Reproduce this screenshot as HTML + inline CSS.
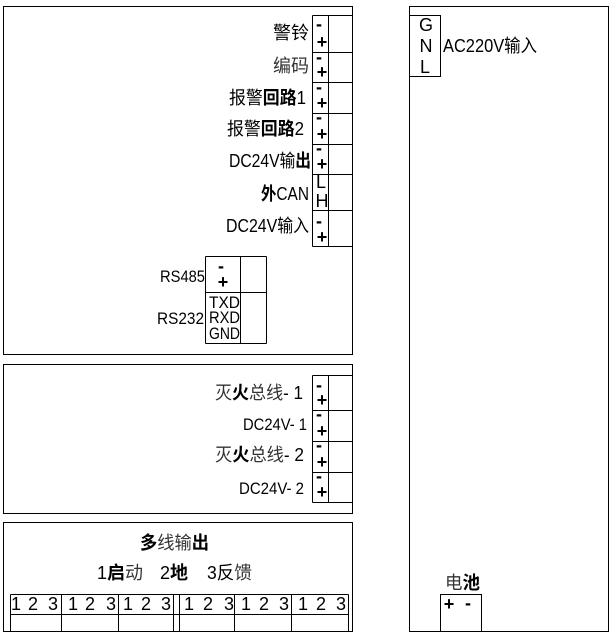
<!DOCTYPE html>
<html>
<head>
<meta charset="utf-8">
<style>
html,body{margin:0;padding:0;background:#fff;}
svg{display:block;}
text{font-family:"Liberation Sans","Noto Sans CJK SC",sans-serif;fill:#000;font-size:18px;}
.s{font-size:17px;}
.t{font-size:16.5px;}
.b{font-size:18px;font-weight:bold;text-anchor:middle;}
.n{font-size:18px;text-anchor:middle;}
.k{font-weight:bold;}
.g{fill:#333;}
.r{fill:none;stroke:#000;stroke-width:1;shape-rendering:crispEdges;}
</style>
</head>
<body>
<svg width="613" height="637" viewBox="0 0 613 637" xmlns="http://www.w3.org/2000/svg">
<g class="r">
<rect class="r" x="3.5" y="6.5" width="349" height="348"/>
<rect class="r" x="3.5" y="364.5" width="349" height="149"/>
<rect class="r" x="3.5" y="522.5" width="349" height="109"/>
<rect class="r" x="409.5" y="6.5" width="199" height="625"/>
<rect class="r" x="409.5" y="15.5" width="31" height="61"/>
<rect class="r" x="440.5" y="594.5" width="41" height="37"/>
<path class="r" d="M312.5 15.5V246.5M328.5 15.5V246.5M312.5 15.5H352M312.5 52.5H352M312.5 82.5H352M312.5 113.5H352M312.5 144.5H352M312.5 174.5H352M312.5 210.5H352M312.5 246.5H352"/>
<path class="r" d="M205.5 256.5V343.5M240.5 256.5V343.5M266.5 256.5V343.5M205.5 256.5H266.5M205.5 292.5H266.5M205.5 343.5H266.5"/>
<path class="r" d="M312.5 375.5V502.5M328.5 375.5V502.5M312.5 375.5H352M312.5 410.5H352M312.5 441.5H352M312.5 472.5H352M312.5 502.5H352"/>
<path class="r" d="M10.5 594.5H348.5M10.5 614.5H348.5M10.5 594.5V631M61.5 594.5V631M118.5 594.5V631M173.5 594.5V631M179.5 594.5V631M234.5 594.5V631M291.5 594.5V631M348.5 594.5V631"/>
</g>

<text x="273" y="39" textLength="36" lengthAdjust="spacingAndGlyphs">警铃</text>
<text x="273" y="72" textLength="36" lengthAdjust="spacingAndGlyphs" class="g">编码</text>
<text x="229" y="104" textLength="77" lengthAdjust="spacingAndGlyphs">报警<tspan class="k">回路</tspan>1</text>
<text x="227" y="135" textLength="77" lengthAdjust="spacingAndGlyphs">报警<tspan class="k">回路</tspan>2</text>
<text x="229" y="167" textLength="82" lengthAdjust="spacingAndGlyphs">DC24V输<tspan class="k">出</tspan></text>
<text x="261" y="200" textLength="48" lengthAdjust="spacingAndGlyphs"><tspan class="k">外</tspan>CAN</text>
<text x="226" y="232" textLength="83" lengthAdjust="spacingAndGlyphs">DC24V输入</text>
<text x="160" y="282" class="s" textLength="45" lengthAdjust="spacingAndGlyphs">RS485</text>
<text x="157" y="324" class="s" textLength="47" lengthAdjust="spacingAndGlyphs">RS232</text>
<text x="215" y="399" textLength="88" lengthAdjust="spacingAndGlyphs"><tspan class="g">灭</tspan><tspan class="k">火</tspan><tspan class="g">总线</tspan>- 1</text>
<text x="243" y="430" class="s" textLength="64" lengthAdjust="spacingAndGlyphs">DC24V- 1</text>
<text x="215" y="461" textLength="89" lengthAdjust="spacingAndGlyphs"><tspan class="g">灭</tspan><tspan class="k">火</tspan><tspan class="g">总线</tspan>- 2</text>
<text x="239" y="494" class="s" textLength="65" lengthAdjust="spacingAndGlyphs">DC24V- 2</text>
<text x="140" y="549" textLength="69" lengthAdjust="spacingAndGlyphs"><tspan class="k">多</tspan><tspan class="g">线输</tspan><tspan class="k">出</tspan></text>
<text x="97" y="579" textLength="46" lengthAdjust="spacingAndGlyphs">1<tspan class="k">启</tspan><tspan class="g">动</tspan></text>
<text x="160" y="579" textLength="28" lengthAdjust="spacingAndGlyphs">2<tspan class="k">地</tspan></text>
<text x="207" y="579" textLength="45" lengthAdjust="spacingAndGlyphs">3反<tspan class="g">馈</tspan></text>
<text x="443" y="52" textLength="94" lengthAdjust="spacingAndGlyphs">AC220V输入</text>
<text x="445" y="589" textLength="35" lengthAdjust="spacingAndGlyphs"><tspan class="g">电</tspan><tspan class="k">池</tspan></text>

<text x="319" y="30" class="b">-</text><text x="322" y="48" class="b">+</text>
<text x="319" y="63" class="b">-</text><text x="322" y="78" class="b">+</text>
<text x="319" y="93" class="b">-</text><text x="322" y="109" class="b">+</text>
<text x="319" y="123" class="b">-</text><text x="322" y="140" class="b">+</text>
<text x="319" y="154" class="b">-</text><text x="322" y="170" class="b">+</text>
<text x="321" y="188" class="n">L</text><text x="322" y="207" class="n">H</text>
<text x="319" y="227" class="b">-</text><text x="322" y="243" class="b">+</text>

<text x="221" y="272" class="b">-</text><text x="223" y="288" class="b">+</text>
<text x="209" y="308" class="t" textLength="31" lengthAdjust="spacingAndGlyphs">TXD</text>
<text x="209" y="323" class="t" textLength="31" lengthAdjust="spacingAndGlyphs">RXD</text>
<text x="209" y="339" class="t" textLength="31" lengthAdjust="spacingAndGlyphs">GND</text>

<text x="319" y="391" class="b">-</text><text x="322" y="406" class="b">+</text>
<text x="319" y="420" class="b">-</text><text x="322" y="437" class="b">+</text>
<text x="319" y="451" class="b">-</text><text x="322" y="468" class="b">+</text>
<text x="319" y="482" class="b">-</text><text x="322" y="498" class="b">+</text>

<text x="426" y="31" class="n">G</text>
<text x="426" y="52" class="n">N</text>
<text x="425" y="73" class="n">L</text>

<text x="449" y="610" class="b">+</text>
<text x="468" y="609" class="b">-</text>

<text x="16" y="610" class="n">1</text><text x="33" y="610" class="n">2</text><text x="53" y="610" class="n">3</text>
<text x="73" y="610" class="n">1</text><text x="90" y="610" class="n">2</text><text x="111" y="610" class="n">3</text>
<text x="128" y="610" class="n">1</text><text x="146" y="610" class="n">2</text><text x="166" y="610" class="n">3</text>
<text x="189" y="610" class="n">1</text><text x="208" y="610" class="n">2</text><text x="229" y="610" class="n">3</text>
<text x="246" y="610" class="n">1</text><text x="264" y="610" class="n">2</text><text x="284" y="610" class="n">3</text>
<text x="303" y="610" class="n">1</text><text x="321" y="610" class="n">2</text><text x="341" y="610" class="n">3</text>
</svg>
</body>
</html>
